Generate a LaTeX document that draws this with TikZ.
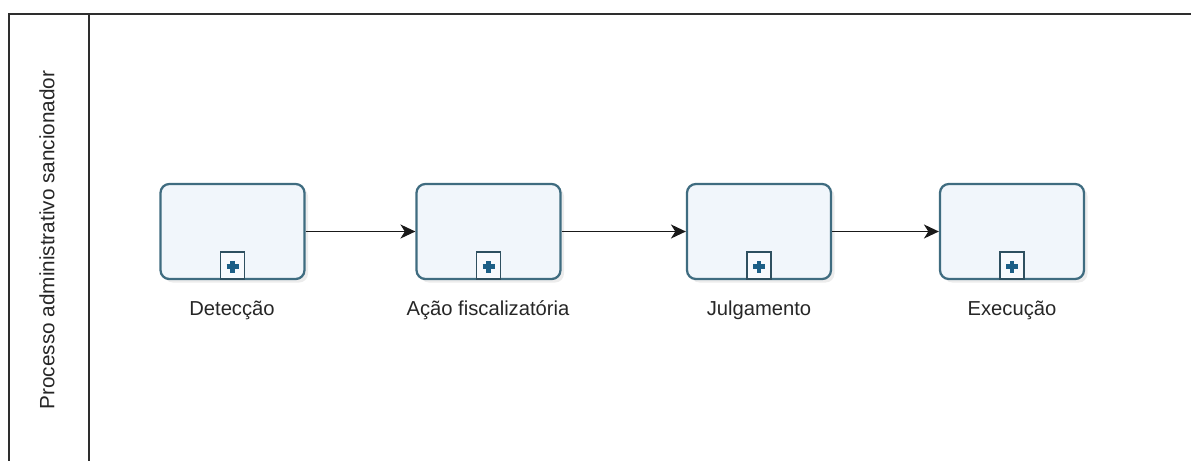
\documentclass[tikz,border=0pt]{standalone}
\usepackage{fontspec}
\setmainfont{Liberation Sans}
\usepackage{tikz}
\usetikzlibrary{
arrows.meta,
positioning,
calc,
shadows
}
\usepackage{xcolor}

\definecolor{taskedge}{HTML}{3F6C80}
\definecolor{taskfill}{HTML}{F1F6FB}
\definecolor{markedge}{HTML}{2F5060}
\definecolor{plusblue}{HTML}{1D5F86}
\definecolor{laneline}{HTML}{2E2E2E}

\begin{document}
\begin{tikzpicture}[x=0.02cm, y=-0.02cm,
    task/.style={draw=taskedge, line width=1.3pt, rounded corners=5pt, fill=taskfill,
        minimum width=2.88cm, minimum height=1.9cm, inner sep=0pt,
        drop shadow={shadow xshift=2pt, shadow yshift=-2pt, opacity=0.15, fill=gray}},
    marker/.style={draw=markedge, line width=1.1pt, fill=white!50!taskfill,
        minimum width=0.48cm, minimum height=0.55cm, inner sep=0pt, anchor=south},
    plus/.style={draw=plusblue, line width=2.8pt},
    label/.style={font=\fontsize{11.5}{14}\selectfont, text=black!85},
    flow/.style={-{Stealth[length=8.5pt, width=8pt, inset=2.5pt]}, line width=0.8pt, black!90}
]

    \useasboundingbox (0,0) rectangle (1191,461);

    % ==================== POOL AND LANE ====================
    \draw[laneline, line width=0.8pt] (1191,14) -- (9,14) -- (9,461);
    \draw[laneline, line width=0.8pt] (89,14) -- (89,461);
    \node[label, font=\fontsize{11.8}{14}\selectfont, rotate=90] (lane) at (47,240)
        {Processo administrativo sancionador};

    % ==================== SUBPROCESS TASKS ====================
    \node[task] (det)  at (232.5,231.5) {};
    \node[task] (acao) at (488.5,231.5) {};
    \node[task] (julg) at (759,231.5) {};
    \node[task] (exec) at (1012,231.5) {};

    % collapsed-subprocess marker on every task
    \foreach \n in {det,acao,julg,exec} {
        \node[marker] (\n-m) at (\n.south) {};
        \draw[plus] ($(\n-m.center)+(-6,1.5)$) -- ($(\n-m.center)+(6,1.5)$);
        \draw[plus] ($(\n-m.center)+(0,-4.5)$) -- ($(\n-m.center)+(0,7.5)$);
    }

    % ==================== TASK LABELS ====================
    \node[label] (det-l)  at (232,310) {Detecção};
    \node[label] (acao-l) at (488,310) {Ação fiscalizatória};
    \node[label] (julg-l) at (759,310) {Julgamento};
    \node[label] (exec-l) at (1012,310) {Execução};

    % ==================== SEQUENCE FLOWS ====================
    \draw[flow] (det.east) -- (acao.west);
    \draw[flow] (acao.east) -- (julg.west);
    \draw[flow] (julg.east) -- (exec.west);

\end{tikzpicture}
\end{document}
